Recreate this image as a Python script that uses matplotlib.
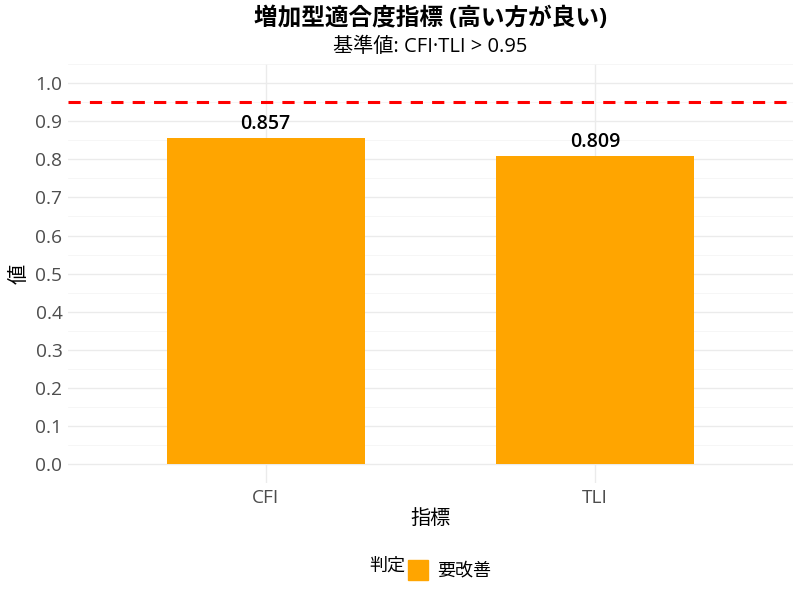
import matplotlib
matplotlib.use("Agg")
import matplotlib.pyplot as plt
from matplotlib.patches import Rectangle

plt.rcParams['font.family'] = ['Open Sans', 'Noto Sans CJK JP', 'DejaVu Sans']

categories = ["CFI", "TLI"]
values = [0.857, 0.809]
labels = ["0.857", "0.809"]
threshold = 0.95
yticks = [0.0, 0.1, 0.2, 0.3, 0.4, 0.5, 0.6, 0.7, 0.8, 0.9, 1.0]
bar_color = "#FFA500"

fig = plt.figure(figsize=(8, 6), dpi=100)
ax = fig.add_axes([0.085, 0.195, 0.906, 0.698])
cx = 0.085 + 0.906 / 2

x = list(range(1, len(categories) + 1))
ax.bar(x, values, width=0.6, color=bar_color, zorder=2)
for xi, v, lab in zip(x, values, labels):
    ax.annotate(lab, (xi, v), xytext=(0, 3), textcoords="offset points",
                ha="center", va="bottom", fontsize=14, fontweight="semibold", color="black", zorder=3)
ax.axhline(threshold, color="#FF0000", linestyle=(0, (4, 3)), linewidth=2.2, zorder=3)

ax.set_xlim(0.4, 2.6)
ax.set_ylim(-0.05, 1.05)
ax.set_xticks(x)
ax.set_xticklabels(categories)
ax.set_yticks(yticks)
ax.set_yticklabels([f"{t:.1f}" for t in yticks])
ax.set_yticks([-0.05 + 0.1 * i for i in range(12)], minor=True)

ax.grid(True, which="major", color="#EBEBEB", linewidth=1.0, zorder=0)
ax.grid(True, which="minor", axis="y", color="#F5F5F5", linewidth=0.6, zorder=0)
ax.set_axisbelow(True)
for s in ax.spines.values():
    s.set_visible(False)
ax.tick_params(axis="both", which="both", length=0, labelsize=13.8, labelcolor="#4D4D4D", pad=4)

ax.set_xlabel("指標", fontsize=14.5, labelpad=2)
ax.set_ylabel("値", fontsize=14.5, labelpad=4)

fig.text(cx, 0.968, "増加型適合度指標 (高い方が良い)", ha="center", va="center",
         fontsize=17, fontweight="bold")
fig.text(cx, 0.921, "基準値: CFI·TLI > 0.95", ha="center", va="center", fontsize=14.5)

fig.text(0.507, 0.057, "判定", ha="right", va="center", fontsize=13)
fig.patches.append(Rectangle((0.510, 0.033), 0.025, 0.034,
                   transform=fig.transFigure, color=bar_color, figure=fig))
fig.text(0.546, 0.050, "要改善", ha="left", va="center", fontsize=13)

fig.savefig("out.png", dpi=100, facecolor="white")
